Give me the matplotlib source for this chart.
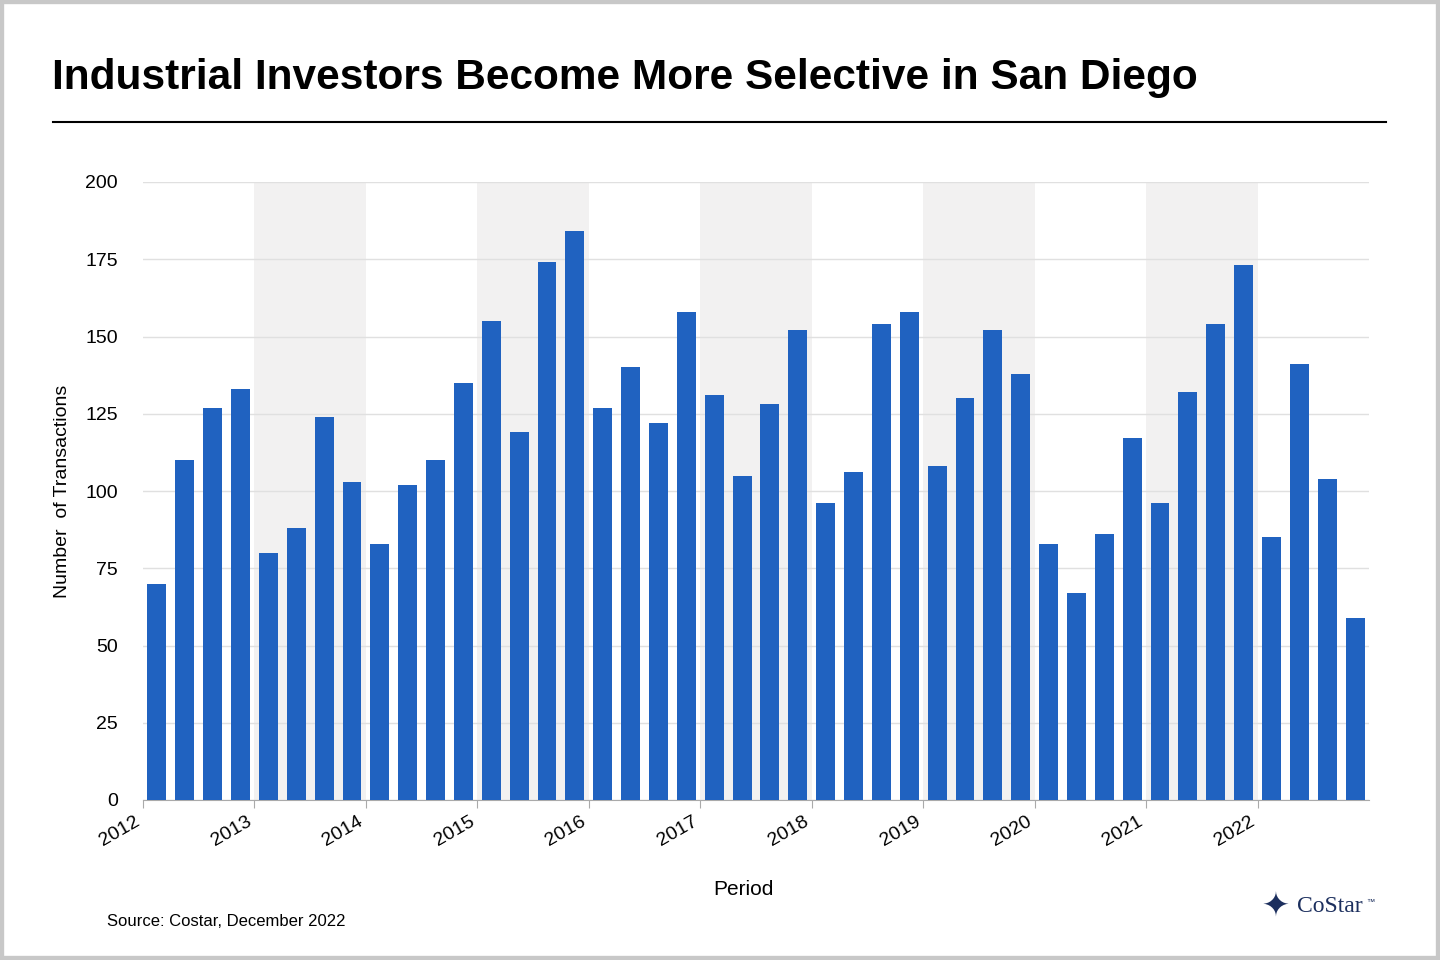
import matplotlib
matplotlib.use("Agg")
import matplotlib.pyplot as plt
from matplotlib.patches import Rectangle
from matplotlib.lines import Line2D

plt.rcParams['font.family'] = ['Liberation Sans', 'DejaVu Sans']

years = list(range(2012, 2023))
values = [70, 110, 127, 133, 80, 88, 124, 103, 83, 102, 110, 135,
          155, 119, 174, 184, 127, 140, 122, 158, 131, 105, 128, 152,
          96, 106, 154, 158, 108, 130, 152, 138, 83, 67, 86, 117,
          96, 132, 154, 173, 85, 141, 104, 59]
shaded_years = [2013, 2015, 2017, 2019, 2021]

W, H = 1440, 960
fig = plt.figure(figsize=(W/100, H/100), dpi=100)
fig.patches.append(Rectangle((0, 0), 1, 1, transform=fig.transFigure, fill=False, ec="#c8c8c8", lw=6))
ax = fig.add_axes([143/W, 1-800/H, (1369-143)/W, (800-182)/H])

x = [years[0] + i // 4 + (i % 4) * 0.25 + 0.125 for i in range(len(values))]
ax.bar(x, values, width=0.17, color="#2062c0", zorder=3)
for y in shaded_years:
    ax.axvspan(y, y + 1, color="#f2f1f1", zorder=0, lw=0)
ax.set_xlim(2012, 2023)
ax.set_ylim(0, 200)
ax.set_yticks(range(0, 201, 25))
ax.yaxis.grid(True, color="#e0e0e0", lw=1, zorder=1)
ax.set_xticks(years)
ax.set_xticklabels([str(y) for y in years], rotation=30, ha="right", fontsize=14)
ax.tick_params(axis="y", length=0, labelsize=14, pad=18)
ax.tick_params(axis="x", length=6, color="#aaaaaa")
for s in ["top", "right", "left"]:
    ax.spines[s].set_visible(False)
ax.spines["bottom"].set_color("#aaaaaa")
ax.set_ylabel("Number  of Transactions", fontsize=14, labelpad=10)
ax.set_xlabel("Period", fontsize=15, labelpad=28)
ax.xaxis.set_label_coords(0.49, -0.13)

fig.text(52/W, 1-78/H, "Industrial Investors Become More Selective in San Diego",
         fontsize=30.5, fontweight="bold", va="center")
fig.add_artist(Line2D([53/W, 1386/W], [1-122/H, 1-122/H], color="black", lw=1.5))
fig.text(107/W, 1-922/H, "Source: Costar, December 2022", fontsize=12, va="center")
fig.text(1297/W, 1-907/H, "CoStar", fontsize=17, va="center", color="#1c2f5e", family="Liberation Serif")
fig.text(1366/W, 1-903/H, "™", fontsize=6, va="center", color="#1c2f5e")
fig.text(1276/W, 1-907/H, "✦", fontsize=24, va="center", ha="center", color="#1c2f5e", family="DejaVu Sans")
fig.savefig("out.png", dpi=100)
